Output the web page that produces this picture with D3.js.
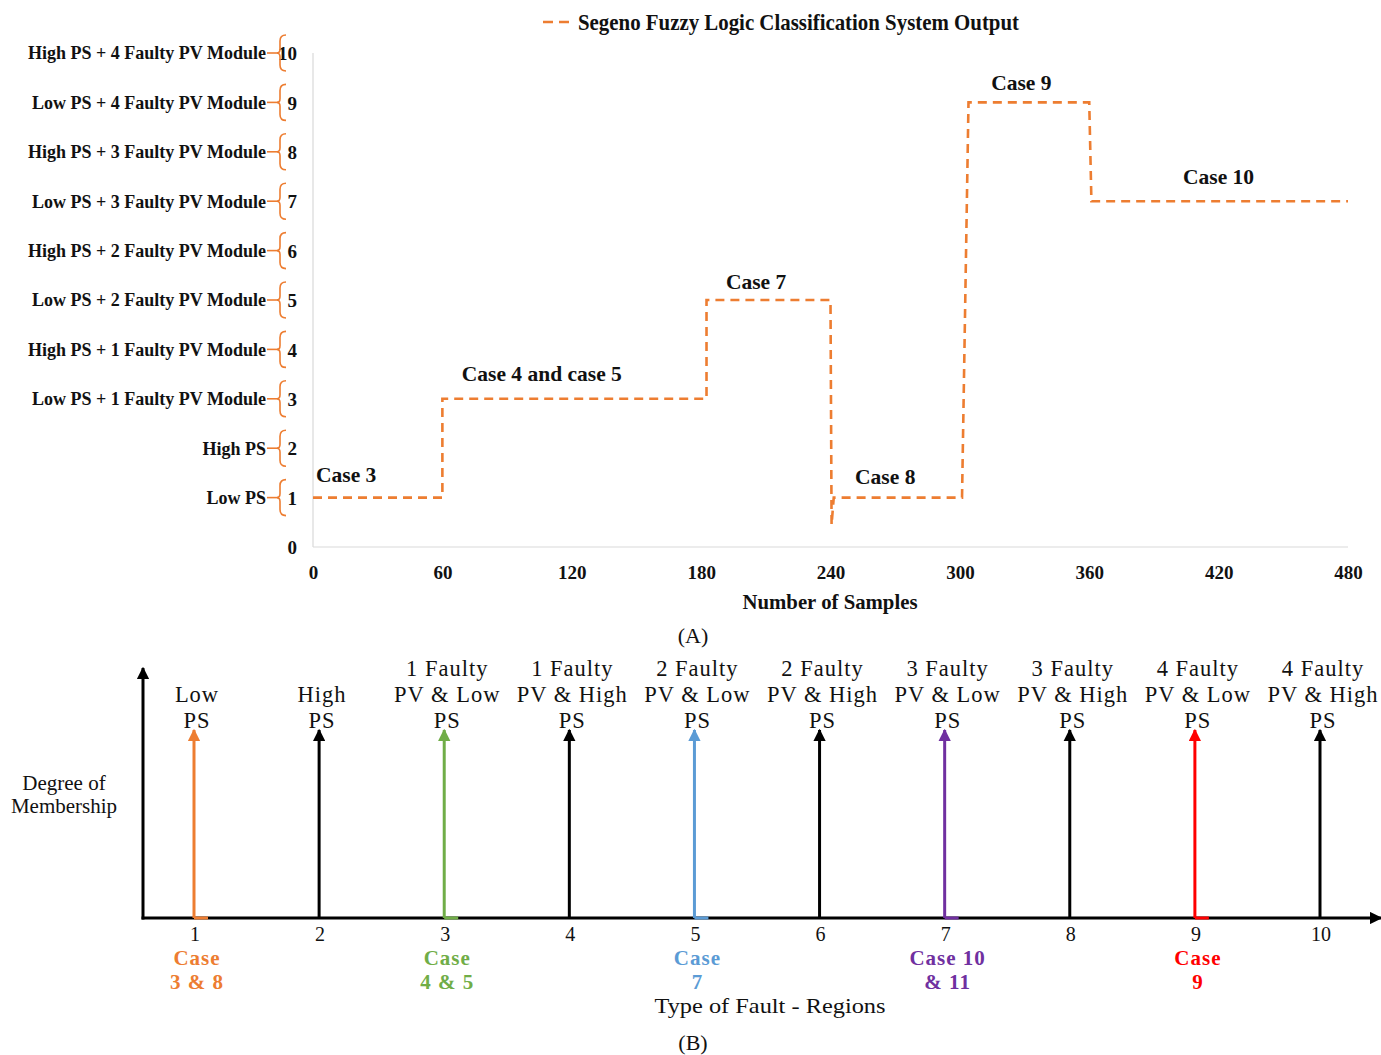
<!DOCTYPE html>
<html>
<head>
<meta charset="utf-8">
<script src="https://cdn.jsdelivr.net/npm/d3@7"></script>
<style>
  body { margin: 0; background: #fff; }
  svg { display: block; }
  text { font-family: "Liberation Serif", "Times New Roman", serif; fill: #111; }
</style>
</head>
<body>
<div id="chart"></div>
<script>
// ---- (A) Sugeno output ----
const sampleTicks = [0, 60, 120, 180, 240, 300, 360, 420, 480];
const outputTicks = [0, 1, 2, 3, 4, 5, 6, 7, 8, 9, 10];
const outputClasses = ['', 'Low PS', 'High PS',
  'Low PS + 1 Faulty PV Module', 'High PS + 1 Faulty PV Module',
  'Low PS + 2 Faulty PV Module', 'High PS + 2 Faulty PV Module',
  'Low PS + 3 Faulty PV Module', 'High PS + 3 Faulty PV Module',
  'Low PS + 4 Faulty PV Module', 'High PS + 4 Faulty PV Module'];
const stepSamples = [0, 60, 60, 182.5, 182.5, 240, 240.5, 241.5, 301, 304, 360, 361, 480];
const stepOutputs = [1, 1, 3, 3, 5, 5, 0.45, 1, 1, 9, 9, 7, 7];
const caseNames = ['Case 3', 'Case 4 and case 5', 'Case 7', 'Case 8', 'Case 9', 'Case 10'];
const caseSamples = [1.4, 69, 191.5, 251.4, 314.5, 403.5];
const caseOutputs = [1.32, 3.36, 5.22, 1.28, 9.25, 7.35];

// ---- (B) membership regions ----
const regions = [1, 2, 3, 4, 5, 6, 7, 8, 9, 10];
const regionLabels = [['Low', 'PS'], ['High', 'PS'],
  ['1 Faulty', 'PV & Low', 'PS'], ['1 Faulty', 'PV & High', 'PS'],
  ['2 Faulty', 'PV & Low', 'PS'], ['2 Faulty', 'PV & High', 'PS'],
  ['3 Faulty', 'PV & Low', 'PS'], ['3 Faulty', 'PV & High', 'PS'],
  ['4 Faulty', 'PV & Low', 'PS'], ['4 Faulty', 'PV & High', 'PS']];
const membership = [1, 1, 1, 1, 1, 1, 1, 1, 1, 1];
const regionCases = [['Case', '3 & 8'], null, ['Case', '4 & 5'], null, ['Case', '7'], null,
  ['Case 10', '& 11'], null, ['Case', '9'], null];
const regionColors = ['#ED7D31', '#000', '#70AD47', '#000', '#5B9BD5', '#000', '#7030A0', '#000', '#FF0000', '#000'];

const W = 1381, H = 1055;
const orange = '#ED7D31';

const svg = d3.select('#chart').append('svg')
  .attr('width', W).attr('height', H);

// ================= chart A =================
const x = d3.scaleLinear().domain([0, 480]).range([313, 1348]);
const y = d3.scaleLinear().domain([0, 10]).range([547, 53]);

const a = svg.append('g').attr('class', 'chartA');

a.append('line').attr('x1', x(0)).attr('x2', x(0)).attr('y1', y(0)).attr('y2', y(10))
  .attr('stroke', '#d9d9d9').attr('stroke-width', 1.2);
a.append('line').attr('x1', x(0)).attr('x2', x(480)).attr('y1', y(0)).attr('y2', y(0))
  .attr('stroke', '#d9d9d9').attr('stroke-width', 1.2);

const xAxis = d3.axisBottom(x).tickValues(sampleTicks).tickSize(0).tickPadding(0);
a.append('g').attr('transform', 'translate(0,' + (y(0) + 32) + ')')
  .call(xAxis)
  .call(g => g.select('.domain').remove())
  .selectAll('text')
  .attr('dy', 0)
  .style('font-family', '"Liberation Serif", serif')
  .style('font-size', '19px').style('font-weight', 'bold').attr('fill', '#111');

const yAxis = d3.axisLeft(y).tickValues(outputTicks).tickSize(0).tickPadding(0);
a.append('g').attr('transform', 'translate(297,0)')
  .call(yAxis)
  .call(g => g.select('.domain').remove())
  .selectAll('text')
  .attr('dy', '0.35em')
  .style('font-family', '"Liberation Serif", serif')
  .style('font-size', '19px').style('font-weight', 'bold').attr('fill', '#111');

// class names with braces
const cls = a.selectAll('.cls').data(outputTicks.filter(d => d > 0)).enter()
  .append('g').attr('class', 'cls')
  .attr('transform', d => 'translate(0,' + y(d) + ')');
cls.append('text')
  .attr('x', 266).attr('dy', '0.35em').attr('text-anchor', 'end')
  .style('font-size', '18px').style('font-weight', 'bold')
  .text(d => outputClasses[d]);
cls.append('line').attr('x1', 267).attr('x2', 279).attr('y1', 0).attr('y2', 0)
  .attr('stroke', orange).attr('stroke-width', 1.6);
cls.append('path')
  .attr('d', 'M286,-18 Q280,-18 280,-12 L280,-4 Q280,0 277,0 Q280,0 280,4 L280,12 Q280,18 286,18')
  .attr('fill', 'none').attr('stroke', orange).attr('stroke-width', 1.6);

// step output
const stepData = stepSamples.map((s, i) => [s, stepOutputs[i]]);
a.append('path').datum(stepData)
  .attr('d', d3.line().x(d => x(d[0])).y(d => y(d[1])))
  .attr('fill', 'none').attr('stroke', orange).attr('stroke-width', 2.6)
  .attr('stroke-dasharray', '9,6');

// case notes
a.selectAll('.case').data(caseNames).enter()
  .append('text').attr('class', 'case')
  .attr('x', (d, i) => x(caseSamples[i]))
  .attr('y', (d, i) => y(caseOutputs[i]))
  .style('font-size', '21.5px').style('font-weight', 'bold')
  .text(d => d);

// legend
const leg = a.append('g').attr('transform', 'translate(543,22)');
leg.append('line').attr('x1', 0).attr('x2', 30).attr('y1', 0).attr('y2', 0)
  .attr('stroke', orange).attr('stroke-width', 2.6).attr('stroke-dasharray', '10,6');
leg.append('text').attr('x', 35).attr('dy', '0.35em')
  .attr('textLength', 441).attr('lengthAdjust', 'spacingAndGlyphs')
  .style('font-size', '23px').style('font-weight', 'bold')
  .text('Segeno Fuzzy Logic Classification System Output');

a.append('text').attr('x', 830).attr('y', 609).attr('text-anchor', 'middle')
  .attr('textLength', 175).attr('lengthAdjust', 'spacingAndGlyphs')
  .style('font-size', '22px').style('font-weight', 'bold')
  .text('Number of Samples');

svg.append('text').attr('x', 693).attr('y', 643).attr('text-anchor', 'middle')
  .style('font-size', '22px').text('(A)');

// ================= chart B =================
const bx = d3.scaleLinear().domain([1, 10]).range([194, 1320]);
const by = d3.scaleLinear().domain([0, 1]).range([918, 730]);
const b = svg.append('g').attr('class', 'chartB');
const colorOf = d => regionColors[regions.indexOf(d)];

const defs = svg.append('defs');
const markerColors = Array.from(new Set(regionColors));
markerColors.forEach((c, i) => {
  defs.append('marker').attr('id', 'arr' + i)
    .attr('viewBox', '0 0 10 10').attr('refX', 9).attr('refY', 5)
    .attr('markerWidth', 4.2).attr('markerHeight', 4.2)
    .attr('markerUnits', 'strokeWidth').attr('orient', 'auto')
    .append('path').attr('d', 'M0,0 L10,5 L0,10 Z').attr('fill', c);
});
const markerFor = c => 'url(#arr' + markerColors.indexOf(c) + ')';

// axes
b.append('line').attr('x1', 143).attr('x2', 143).attr('y1', by(0) + 1.5).attr('y2', 668)
  .attr('stroke', '#000').attr('stroke-width', 3).attr('marker-end', markerFor('#000'));
b.append('line').attr('x1', 141.5).attr('x2', 1381).attr('y1', by(0)).attr('y2', by(0))
  .attr('stroke', '#000').attr('stroke-width', 3).attr('marker-end', markerFor('#000'));

// membership spikes
const spike = b.selectAll('.spike').data(regions).enter()
  .append('g').attr('class', 'spike');
spike.append('line')
  .attr('x1', d => bx(d)).attr('x2', d => bx(d))
  .attr('y1', by(0)).attr('y2', (d, i) => by(membership[i]))
  .attr('stroke', colorOf).attr('stroke-width', 3)
  .attr('marker-end', d => markerFor(colorOf(d)));
spike.filter(d => colorOf(d) !== '#000').append('line')
  .attr('x1', d => bx(d)).attr('x2', d => bx(d) + 14)
  .attr('y1', by(0)).attr('y2', by(0))
  .attr('stroke', colorOf).attr('stroke-width', 3);

// labels above spikes
spike.each(function(d, i) {
  const lines = regionLabels[i];
  const t = d3.select(this).append('text')
    .attr('text-anchor', 'middle')
    .style('font-size', '22.5px').style('letter-spacing', '1px');
  lines.forEach((s, k) => {
    t.append('tspan').attr('x', bx(d) + 3)
      .attr('y', 728 - (lines.length - 1 - k) * 26)
      .text(s);
  });
});

// region numbers
spike.append('text').attr('x', d => bx(d) + 1).attr('y', 941)
  .attr('text-anchor', 'middle').style('font-size', '20px').text(d => d);

// case tags under axis
spike.filter(d => regionCases[regions.indexOf(d)]).each(function(d) {
  const i = regions.indexOf(d);
  const t = d3.select(this).append('text')
    .attr('text-anchor', 'middle')
    .style('font-size', '21px').style('font-weight', 'bold')
    .style('letter-spacing', '1px')
    .style('fill', regionColors[i]);
  regionCases[i].forEach((s, k) => {
    t.append('tspan').attr('x', bx(d) + 3).attr('y', 965 + k * 24).text(s);
  });
});

b.append('text').attr('x', 64).attr('y', 790).attr('text-anchor', 'middle')
  .style('font-size', '21px').text('Degree of');
b.append('text').attr('x', 64).attr('y', 813).attr('text-anchor', 'middle')
  .style('font-size', '21px').text('Membership');

b.append('text').attr('x', 770).attr('y', 1013).attr('text-anchor', 'middle')
  .attr('textLength', 231).attr('lengthAdjust', 'spacingAndGlyphs')
  .style('font-size', '21px').text('Type of Fault - Regions');
svg.append('text').attr('x', 693).attr('y', 1050).attr('text-anchor', 'middle')
  .style('font-size', '22px').text('(B)');
</script>
</body>
</html>
